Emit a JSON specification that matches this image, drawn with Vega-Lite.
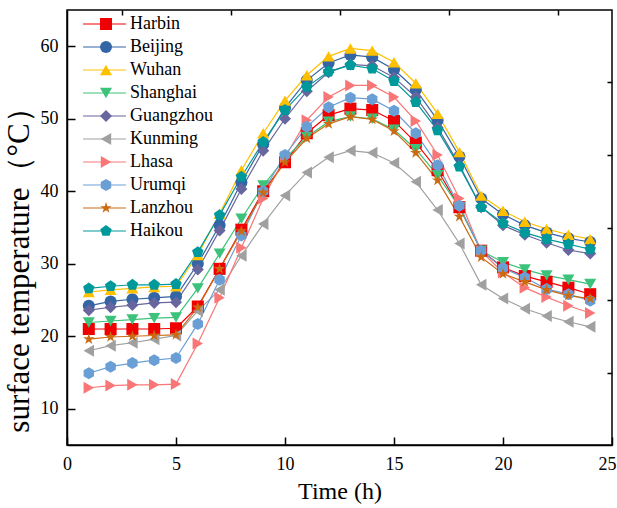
{
  "$schema": "https://vega.github.io/schema/vega-lite/v6.json",
  "width": 545,
  "height": 435,
  "autosize": {"type": "none"},
  "padding": {"left": 67, "top": 10, "right": 5, "bottom": 63},
  "background": "white",
  "config": {
    "view": {"stroke": "black", "strokeWidth": 1.5},
    "font": "Liberation Serif",
    "axis": {"labelFont": "Liberation Serif", "titleFont": "Liberation Serif", "labelColor": "black", "titleColor": "black", "grid": false, "titleFontWeight": "normal"},
    "legend": {"labelFont": "Liberation Serif", "labelColor": "black"}
  },
  "data": {
    "values": [
      {"hour": 1, "Harbin": 21.0, "Beijing": 24.2, "Wuhan": 26.1, "Shanghai": 21.9, "Guangzhou": 23.6, "Kunming": 18.0, "Lhasa": 12.9, "Urumqi": 14.9, "Lanzhou": 19.6, "Haikou": 26.6},
      {"hour": 2, "Harbin": 21.0, "Beijing": 24.8, "Wuhan": 26.4, "Shanghai": 22.1, "Guangzhou": 24.0, "Kunming": 18.7, "Lhasa": 13.2, "Urumqi": 15.8, "Lanzhou": 19.9, "Haikou": 26.9},
      {"hour": 3, "Harbin": 21.0, "Beijing": 25.1, "Wuhan": 26.6, "Shanghai": 22.3, "Guangzhou": 24.3, "Kunming": 19.1, "Lhasa": 13.3, "Urumqi": 16.3, "Lanzhou": 20.0, "Haikou": 27.1},
      {"hour": 4, "Harbin": 21.0, "Beijing": 25.3, "Wuhan": 26.8, "Shanghai": 22.5, "Guangzhou": 24.6, "Kunming": 19.6, "Lhasa": 13.3, "Urumqi": 16.7, "Lanzhou": 20.1, "Haikou": 27.1},
      {"hour": 5, "Harbin": 21.1, "Beijing": 25.5, "Wuhan": 26.9, "Shanghai": 22.6, "Guangzhou": 24.7, "Kunming": 20.1, "Lhasa": 13.4, "Urumqi": 17.0, "Lanzhou": 20.2, "Haikou": 27.2},
      {"hour": 6, "Harbin": 24.1, "Beijing": 30.0, "Wuhan": 31.2, "Shanghai": 26.6, "Guangzhou": 29.2, "Kunming": 23.5, "Lhasa": 19.0, "Urumqi": 21.7, "Lanzhou": 24.0, "Haikou": 31.6},
      {"hour": 7, "Harbin": 29.3, "Beijing": 35.3, "Wuhan": 36.9, "Shanghai": 31.4, "Guangzhou": 34.6, "Kunming": 26.4, "Lhasa": 25.3, "Urumqi": 27.8, "Lanzhou": 29.3, "Haikou": 36.7},
      {"hour": 8, "Harbin": 34.7, "Beijing": 41.2, "Wuhan": 42.9, "Shanghai": 36.2, "Guangzhou": 40.3, "Kunming": 31.1, "Lhasa": 32.2, "Urumqi": 33.9, "Lanzhou": 34.5, "Haikou": 42.0},
      {"hour": 9, "Harbin": 40.0, "Beijing": 46.5, "Wuhan": 48.0, "Shanghai": 40.8, "Guangzhou": 45.6, "Kunming": 35.5, "Lhasa": 39.0, "Urumqi": 40.0, "Lanzhou": 39.8, "Haikou": 46.8},
      {"hour": 10, "Harbin": 44.0, "Beijing": 51.5, "Wuhan": 52.5, "Shanghai": 44.5, "Guangzhou": 50.0, "Kunming": 39.4, "Lhasa": 44.7, "Urumqi": 45.0, "Lanzhou": 44.0, "Haikou": 51.2},
      {"hour": 11, "Harbin": 48.0, "Beijing": 55.3, "Wuhan": 56.0, "Shanghai": 47.5, "Guangzhou": 53.8, "Kunming": 42.6, "Lhasa": 49.8, "Urumqi": 48.9, "Lanzhou": 47.3, "Haikou": 54.4},
      {"hour": 12, "Harbin": 50.5, "Beijing": 57.7, "Wuhan": 58.6, "Shanghai": 49.6, "Guangzhou": 56.4, "Kunming": 44.7, "Lhasa": 53.0, "Urumqi": 51.6, "Lanzhou": 49.3, "Haikou": 56.5},
      {"hour": 13, "Harbin": 51.4, "Beijing": 58.8, "Wuhan": 59.7, "Shanghai": 50.3, "Guangzhou": 57.5, "Kunming": 45.6, "Lhasa": 54.6, "Urumqi": 52.9, "Lanzhou": 50.3, "Haikou": 57.4},
      {"hour": 14, "Harbin": 51.2, "Beijing": 58.5, "Wuhan": 59.4, "Shanghai": 50.0, "Guangzhou": 57.3, "Kunming": 45.3, "Lhasa": 54.6, "Urumqi": 52.7, "Lanzhou": 49.9, "Haikou": 56.9},
      {"hour": 15, "Harbin": 49.7, "Beijing": 56.8, "Wuhan": 57.8, "Shanghai": 48.5, "Guangzhou": 55.7, "Kunming": 43.9, "Lhasa": 53.0, "Urumqi": 51.1, "Lanzhou": 48.3, "Haikou": 55.2},
      {"hour": 16, "Harbin": 46.7, "Beijing": 54.0, "Wuhan": 54.9, "Shanghai": 45.8, "Guangzhou": 53.0, "Kunming": 41.3, "Lhasa": 49.7, "Urumqi": 48.0, "Lanzhou": 45.3, "Haikou": 52.3},
      {"hour": 17, "Harbin": 42.9, "Beijing": 49.8, "Wuhan": 50.7, "Shanghai": 42.2, "Guangzhou": 48.8, "Kunming": 37.4, "Lhasa": 45.0, "Urumqi": 43.6, "Lanzhou": 41.5, "Haikou": 48.4},
      {"hour": 18, "Harbin": 37.8, "Beijing": 44.8, "Wuhan": 45.4, "Shanghai": 37.8, "Guangzhou": 43.6, "Kunming": 32.8, "Lhasa": 39.0, "Urumqi": 38.0, "Lanzhou": 36.5, "Haikou": 43.4},
      {"hour": 19, "Harbin": 31.8, "Beijing": 39.0, "Wuhan": 39.4, "Shanghai": 31.8, "Guangzhou": 37.8, "Kunming": 27.1, "Lhasa": 31.7, "Urumqi": 31.8, "Lanzhou": 30.9, "Haikou": 37.8},
      {"hour": 20, "Harbin": 29.5, "Beijing": 36.8, "Wuhan": 37.3, "Shanghai": 30.2, "Guangzhou": 35.3, "Kunming": 25.2, "Lhasa": 28.8, "Urumqi": 29.4, "Lanzhou": 28.6, "Haikou": 35.6},
      {"hour": 21, "Harbin": 28.3, "Beijing": 35.3, "Wuhan": 35.8, "Shanghai": 29.2, "Guangzhou": 34.0, "Kunming": 23.8, "Lhasa": 26.7, "Urumqi": 28.1, "Lanzhou": 27.5, "Haikou": 34.3},
      {"hour": 22, "Harbin": 27.5, "Beijing": 34.3, "Wuhan": 34.8, "Shanghai": 28.4, "Guangzhou": 32.9, "Kunming": 22.8, "Lhasa": 25.4, "Urumqi": 26.5, "Lanzhou": 26.4, "Haikou": 33.4},
      {"hour": 23, "Harbin": 26.7, "Beijing": 33.5, "Wuhan": 34.0, "Shanghai": 27.8, "Guangzhou": 31.9, "Kunming": 22.0, "Lhasa": 24.2, "Urumqi": 25.8, "Lanzhou": 25.6, "Haikou": 32.7},
      {"hour": 24, "Harbin": 25.8, "Beijing": 33.0, "Wuhan": 33.4, "Shanghai": 27.2, "Guangzhou": 31.4, "Kunming": 21.3, "Lhasa": 23.2, "Urumqi": 24.9, "Lanzhou": 25.2, "Haikou": 32.0}
    ]
  },
  "transform": [
    {"fold": ["Harbin", "Beijing", "Wuhan", "Shanghai", "Guangzhou", "Kunming", "Lhasa", "Urumqi", "Lanzhou", "Haikou"], "as": ["city", "temp"]}
  ],
  "resolve": {"axis": {"x": "independent", "y": "independent"}},
  "layer": [
    {
      "mark": {"type": "line", "strokeWidth": 1.2},
      "encoding": {
        "x": {
          "field": "hour", "type": "quantitative",
          "scale": {"domain": [0, 25], "nice": false, "zero": false},
          "axis": {"values": [0, 5, 10, 15, 20, 25], "tickSize": -8, "tickColor": "black", "tickWidth": 1.5, "domainColor": "black", "domainWidth": 1.5, "labelFontSize": 18, "labelPadding": 18, "labelFlush": false, "labelOffset": {"condition": {"test": "datum.value == 25", "value": -5}, "value": 0}, "title": "Time (h)", "titleFontSize": 24, "titlePadding": 6}
        },
        "y": {
          "field": "temp", "type": "quantitative",
          "scale": {"domain": [5, 65], "nice": false, "zero": false},
          "axis": {"values": [10, 20, 30, 40, 50, 60], "tickSize": -8, "tickColor": "black", "tickWidth": 1.5, "domainColor": "black", "domainWidth": 1.5, "labelFontSize": 18, "labelPadding": 17, "title": "surface temperature（°C）", "titleFontSize": 31, "titlePadding": 5, "titleY": 252}
        },
        "stroke": {
          "field": "city", "type": "nominal",
          "scale": {
            "domain": ["Harbin", "Beijing", "Wuhan", "Shanghai", "Guangzhou", "Kunming", "Lhasa", "Urumqi", "Lanzhou", "Haikou", "~"],
            "range": ["#F00000", "#3465A4", "#FFC000", "#3CC27A", "#67669E", "#A0A0A0", "#F97676", "#6A9FD6", "#CC6A12", "#00999B", "#000000"]
          },
          "legend": {"orient": "none", "legendX": 28.5, "legendY": 5, "padding": 0, "title": null, "values": ["Harbin", "Beijing", "Wuhan", "Shanghai", "Guangzhou", "Kunming", "Lhasa", "Urumqi", "Lanzhou", "Haikou"], "symbolType": "M-4,0H4", "symbolSize": 115, "symbolStrokeWidth": 1.2, "symbolFillColor": "transparent", "labelFontSize": 18, "labelOffset": 16.5, "rowPadding": 5}
        }
      }
    },
    {
      "mark": {"type": "point", "filled": true, "size": 145, "opacity": 1},
      "encoding": {
        "x": {
          "field": "hour", "type": "quantitative",
          "axis": {"values": [2.5, 7.5, 12.5, 17.5, 22.5], "tickSize": -5, "tickColor": "black", "tickWidth": 1.5, "domain": false, "labels": false, "title": null}
        },
        "y": {
          "field": "temp", "type": "quantitative",
          "axis": {"values": [15, 25, 35, 45, 55], "tickSize": -5, "tickColor": "black", "tickWidth": 1.5, "domain": false, "labels": false, "title": null}
        },
        "fill": {
          "field": "city", "type": "nominal",
          "scale": {
            "domain": ["Harbin", "Beijing", "Wuhan", "Shanghai", "Guangzhou", "Kunming", "Lhasa", "Urumqi", "Lanzhou", "Haikou"],
            "range": ["#F00000", "#3465A4", "#FFC000", "#3CC27A", "#67669E", "#A0A0A0", "#F97676", "#6A9FD6", "#CC6A12", "#00999B"]
          },
          "legend": {"orient": "none", "legendX": 30, "legendY": 5, "padding": 0, "title": null, "symbolSize": 145, "symbolStrokeWidth": 0, "labelFontSize": 18, "labelOpacity": 0, "labelExpr": "' '", "rowPadding": 5}
        },
        "shape": {
          "field": "city", "type": "nominal",
          "scale": {
            "domain": ["Harbin", "Beijing", "Wuhan", "Shanghai", "Guangzhou", "Kunming", "Lhasa", "Urumqi", "Lanzhou", "Haikou"],
            "range": ["square", "circle", "triangle-up", "triangle-down", "diamond", "triangle-left", "triangle-right", "M0,-1L0.866,-0.5L0.866,0.5L0,1L-0.866,0.5L-0.866,-0.5Z", "M0,-1L0.225,-0.309L0.951,-0.309L0.363,0.118L0.588,0.809L0,0.382L-0.588,0.809L-0.363,0.118L-0.951,-0.309L-0.225,-0.309Z", "M0,-1L0.951,-0.309L0.588,0.809L-0.588,0.809L-0.951,-0.309Z"]
          },
          "legend": {"orient": "none", "legendX": 30, "legendY": 5, "padding": 0, "title": null, "symbolSize": 145, "symbolStrokeWidth": 0, "labelFontSize": 18, "labelOpacity": 0, "labelExpr": "' '", "rowPadding": 5}
        }
      }
    }
  ]
}
